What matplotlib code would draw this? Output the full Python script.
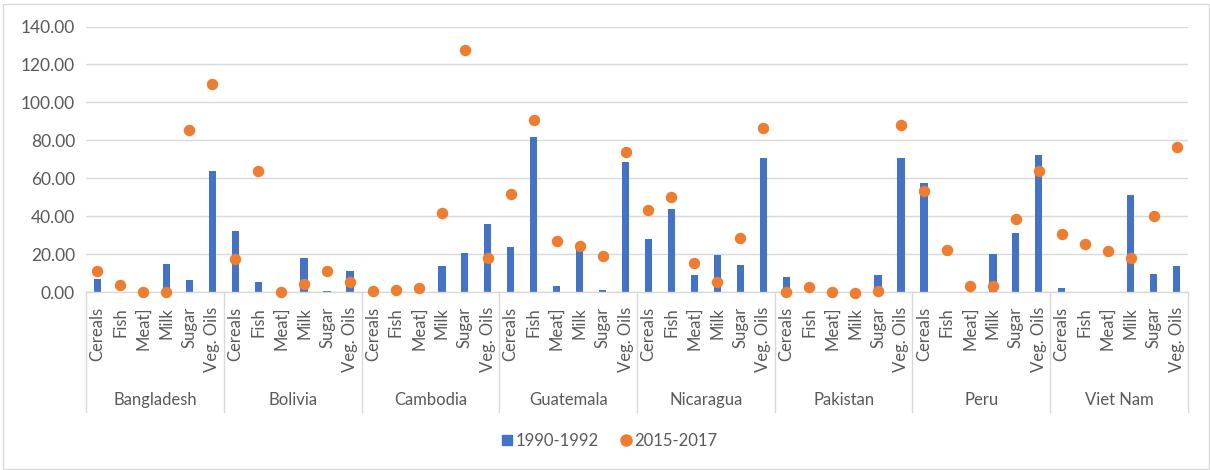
import matplotlib
matplotlib.use("Agg")
import matplotlib.pyplot as plt
from matplotlib.lines import Line2D
from matplotlib.patches import Rectangle
import matplotlib.transforms as mtransforms

plt.rcParams['font.family'] = ['Lato', 'DejaVu Sans']

countries = ["Bangladesh", "Bolivia", "Cambodia", "Guatemala",
             "Nicaragua", "Pakistan", "Peru", "Viet Nam"]
items = ["Cereals", "Fish", "Meat]", "Milk", "Sugar", "Veg. Oils"]

# 1990-1992, six items per country
early = [6.9, 0.0, 0.0, 14.8, 6.5, 64.0,
         32.2, 5.3, 0.0, 17.9, 0.7, 11.2,
         0.0, 0.0, 0.0, 13.9, 20.6, 35.9,
         23.7, 81.6, 3.3, 23.0, 1.2, 68.8,
         28.0, 44.1, 9.0, 19.5, 14.2, 70.9,
         8.1, 0.0, 0.0, 0.0, 9.0, 70.9,
         57.8, 0.0, 0.0, 20.0, 31.1, 72.5,
         2.3, 0.0, 0.0, 51.5, 9.7, 13.9]

# 2015-2017
late = [11.2, 3.9, 0.0, 0.0, 85.6, 109.8,
        17.4, 64.0, 0.0, 4.4, 11.4, 5.4,
        0.7, 1.2, 2.4, 41.7, 127.5, 17.9,
        52.0, 90.9, 27.1, 24.4, 19.0, 74.0,
        43.6, 50.1, 15.3, 5.4, 28.5, 86.3,
        0.2, 3.0, 0.2, -0.3, 0.9, 88.3,
        53.1, 22.3, 3.5, 3.5, 38.5, 63.7,
        30.6, 25.3, 21.6, 17.9, 40.4, 76.7]

yticks = [0, 20, 40, 60, 80, 100, 120, 140]

blue = "#4472C4"
orange = "#ED7D31"
grid = "#D9D9D9"
text_col = "#595959"

fig = plt.figure(figsize=(12.1, 4.7), dpi=100)
W, H = 1210.0, 470.0
fig.patches.append(Rectangle((3 / W, 1 / H), 1206 / W, 465 / H, transform=fig.transFigure,
                             fill=False, edgecolor=grid, linewidth=1.0))

ax = fig.add_axes([86 / W, 1 - 292.3 / H, 1102 / W, 265.8 / H])

n = len(countries) * len(items)
x = list(range(n))
ax.bar(x, early, width=0.32, color=blue, zorder=2)
ax.scatter(x, late, s=68, color=orange, zorder=3, clip_on=False, linewidths=0)

ax.set_xlim(-0.5, n - 0.5)
ax.set_ylim(0, 140)
ax.set_yticks(yticks)
ax.set_yticklabels(["%.2f" % v for v in yticks])
ax.yaxis.grid(True, color=grid, linewidth=1.0, zorder=0)
ax.set_axisbelow(True)
for side in ["top", "right", "left"]:
    ax.spines[side].set_visible(False)
ax.spines["bottom"].set_color(grid)
ax.spines["bottom"].set_linewidth(1.0)
ax.tick_params(axis="y", length=0, labelsize=12.5, labelcolor=text_col, pad=8)

ax.set_xticks(x)
ax.set_xticklabels(items * len(countries), rotation=90, va="top", ha="center")
ax.tick_params(axis="x", length=0, labelsize=12, labelcolor=text_col, pad=10.5)

# two-level category axis: group separators and country names
trans = mtransforms.blended_transform_factory(ax.transData, ax.transAxes)
sep_bottom = -(412 - 292.3) / 265.8
for g in range(len(countries) + 1):
    xs = g * len(items) - 0.5
    ax.plot([xs, xs], [0, sep_bottom], transform=trans, color=grid,
            linewidth=1.0, clip_on=False)
for g, name in enumerate(countries):
    xc = g * len(items) + (len(items) - 1) / 2.0
    ax.text(xc, -(400 - 292.3) / 265.8, name, transform=trans, ha="center",
            va="center", fontsize=12, color=text_col)

handles = [Line2D([], [], marker="s", linestyle="none", color=blue, markersize=7),
           Line2D([], [], marker="o", linestyle="none", color=orange, markersize=8)]
fig.legend(handles, ["1990-1992", "2015-2017"], loc="center", bbox_to_anchor=(0.503, 1 - 441 / H),
           ncol=2, frameon=False, fontsize=12, labelcolor=text_col,
           handletextpad=0.05, columnspacing=1.2, handlelength=0.9)

fig.savefig("out.png", dpi=100)
